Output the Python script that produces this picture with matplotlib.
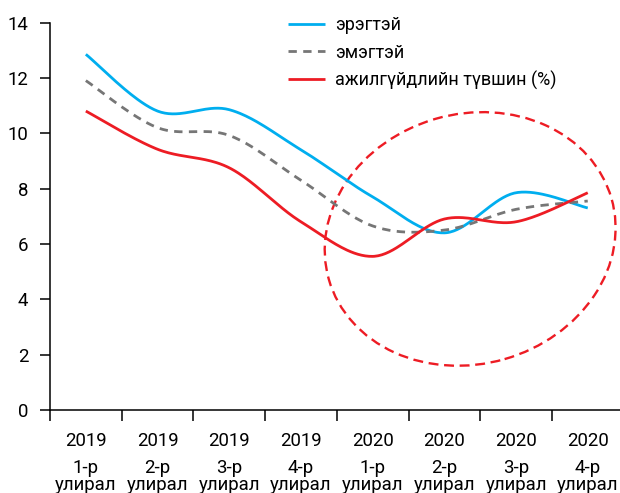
import matplotlib
matplotlib.use("Agg")
import matplotlib.pyplot as plt
import numpy as np
from matplotlib import font_manager
from matplotlib.patches import Ellipse
from matplotlib.transforms import ScaledTranslation, blended_transform_factory

years = ["2019", "2019", "2019", "2019", "2020", "2020", "2020", "2020"]
quarters = ["1-р", "2-р", "3-р", "4-р", "1-р", "2-р", "3-р", "4-р"]
quarter_word = "улирал"

men = [12.85, 10.8, 10.85, 9.4, 7.7, 6.4, 7.85, 7.3]
women = [11.9, 10.2, 9.92, 8.3, 6.65, 6.5, 7.25, 7.55]
unemployment = [10.8, 9.42, 8.75, 6.8, 5.55, 6.9, 6.8, 7.85]

series_names = ["эрэгтэй", "эмэгтэй", "ажилгүйдлийн түвшин (%)"]


def pick_font(candidates):
    installed = {f.name for f in font_manager.fontManager.ttflist}
    for name in candidates:
        if name in installed:
            return name
    return "DejaVu Sans"


def smooth(xs, ys, n=40):
    # Catmull-Rom through the points, same look as spreadsheet "smoothed line"
    pts = np.column_stack([xs, ys]).astype(float)
    pts = np.vstack([pts[0], pts, pts[-1]])
    out = []
    t = np.linspace(0, 1, n)[:, None]
    for i in range(1, len(pts) - 2):
        p0, p1, p2, p3 = pts[i - 1], pts[i], pts[i + 1], pts[i + 2]
        m1 = (p2 - p0) / 2
        m2 = (p3 - p1) / 2
        h00 = 2 * t**3 - 3 * t**2 + 1
        h10 = t**3 - 2 * t**2 + t
        h01 = -2 * t**3 + 3 * t**2
        h11 = t**3 - t**2
        seg = h00 * p1 + h10 * m1 + h01 * p2 + h11 * m2
        out.append(seg if i == 1 else seg[1:])
    out = np.vstack(out)
    return out[:, 0], out[:, 1]


tick_font = pick_font(["Liberation Sans Narrow", "DejaVu Sans Condensed", "Roboto"])
legend_font = pick_font(["Roboto", "Inter", "Noto Sans"])

fig = plt.figure(figsize=(6.2, 4.93), dpi=100)
ax = fig.add_axes([50 / 620, 83 / 493, 573.6 / 620, 387.5 / 493])

x = np.arange(len(years))
styles = [
    dict(color="#00AEEF", lw=2.0, ls="-"),
    dict(color="#767676", lw=2.0, ls=(0, (3.0, 2.3))),
    dict(color="#ED1C24", lw=2.0, ls="-"),
]
for values, name, st in zip([men, women, unemployment], series_names, styles):
    sx, sy = smooth(x, values)
    ax.plot(sx, sy, color=st["color"], lw=st["lw"], linestyle=st["ls"],
            label=name, solid_capstyle="butt", dash_capstyle="butt")

# dashed ring around the 2020 part
ring = Ellipse((0, 0), width=2.94, height=2.50, angle=16, fill=False,
               edgecolor="#ED1C24", lw=1.7, linestyle=(0, (4.2, 2.4)),
               transform=fig.dpi_scale_trans + ScaledTranslation(5.36, 6.18, ax.transData),
               clip_on=False)
ax.add_patch(ring)

ax.set_xlim(-0.5, 7.5)
ax.set_ylim(0, 14)
ax.set_yticks(range(0, 15, 2))
ax.set_xticks(x)
ax.set_xticklabels(years, fontfamily=tick_font, fontsize=13.4)
ax.set_xticks(np.arange(-0.5, 8, 1), minor=True)
ax.tick_params(axis="x", which="major", length=0, pad=15.6)
ax.tick_params(axis="x", which="minor", length=8, width=1.1, color="black")
ax.tick_params(axis="y", length=7.2, width=1.1, pad=8.4, labelsize=13.4)
for lab in ax.get_yticklabels():
    lab.set_fontfamily(tick_font)

for side in ["top", "right"]:
    ax.spines[side].set_visible(False)
for side in ["left", "bottom"]:
    ax.spines[side].set_linewidth(1.1)
    ax.spines[side].set_color("black")

trans = blended_transform_factory(ax.transData, ax.transAxes)
for i, q in enumerate(quarters):
    ax.text(i, -0.1618, q, transform=trans, ha="center", va="baseline",
            fontfamily=tick_font, fontsize=13.4)
    ax.text(i, -0.2065, quarter_word, transform=trans, ha="center", va="baseline",
            fontfamily=tick_font, fontsize=13.4)

ax.legend(loc="upper left", bbox_to_anchor=(288 / 620, 1 - 16.5 / 493),
          bbox_transform=fig.transFigure, frameon=False, borderpad=0,
          borderaxespad=0, handlelength=2.05, handletextpad=0.55,
          labelspacing=0.5, prop={"family": legend_font, "size": 13})

fig.savefig("out.png", dpi=100, facecolor="white")
plt.close(fig)
